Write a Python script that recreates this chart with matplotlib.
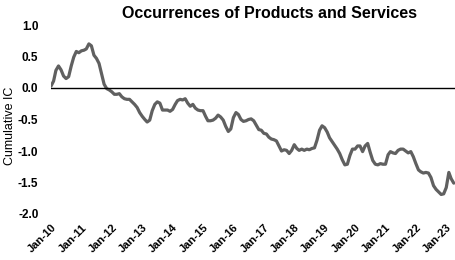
import matplotlib
matplotlib.use("Agg")
import matplotlib.pyplot as plt
import pandas as pd

plt.rcParams['font.family'] = ['Liberation Sans', 'DejaVu Sans']

# monthly cumulative IC from Jan-2010
cum_ic = [
    0.03, 0.11, 0.28, 0.35, 0.29, 0.19, 0.15, 0.18, 0.35, 0.49, 0.58, 0.56,
    0.59, 0.60, 0.62, 0.70, 0.67, 0.52, 0.47, 0.39, 0.22, 0.06, -0.01, -0.03,
    -0.06, -0.10, -0.10, -0.09, -0.14, -0.17, -0.18, -0.18, -0.22, -0.26, -0.31, -0.39,
    -0.45, -0.50, -0.54, -0.51, -0.36, -0.26, -0.22, -0.24, -0.35, -0.35, -0.35, -0.37,
    -0.34, -0.26, -0.20, -0.18, -0.19, -0.17, -0.24, -0.29, -0.26, -0.32, -0.35, -0.36,
    -0.36, -0.45, -0.52, -0.52, -0.51, -0.48, -0.43, -0.46, -0.51, -0.61, -0.69, -0.65,
    -0.47, -0.39, -0.42, -0.50, -0.53, -0.52, -0.50, -0.49, -0.52, -0.59, -0.66, -0.67,
    -0.72, -0.73, -0.78, -0.81, -0.82, -0.84, -0.92, -1.00, -0.98, -0.99, -1.04, -0.99,
    -0.90, -0.96, -0.99, -0.97, -0.99, -0.97, -0.98, -0.96, -0.95, -0.83, -0.67, -0.60,
    -0.63, -0.70, -0.79, -0.85, -0.91, -0.97, -1.04, -1.14, -1.22, -1.21, -1.07, -0.97,
    -0.97, -0.92, -0.92, -1.01, -0.92, -0.88, -1.02, -1.15, -1.21, -1.22, -1.20, -1.21,
    -1.21, -1.06, -1.01, -1.03, -1.04, -0.99, -0.97, -0.97, -1.00, -1.03, -1.01, -1.09,
    -1.20, -1.30, -1.33, -1.35, -1.34, -1.35, -1.42, -1.55, -1.61, -1.65, -1.69, -1.68,
    -1.58, -1.34, -1.44, -1.51,
]
dates = pd.date_range('2010-01-01', periods=len(cum_ic), freq='MS')
tick_dates = pd.date_range('2010-01-01', '2023-01-01', freq='YS')
y_ticks = [1.0, 0.5, 0.0, -0.5, -1.0, -1.5, -2.0]

fig = plt.figure(figsize=(4.55, 2.6), dpi=100)
ax = fig.add_axes([51 / 455, 1 - 214 / 260, 404 / 455, 189 / 260])

ax.plot(dates, cum_ic, color='#606060', linewidth=2.3, solid_capstyle='round')
ax.axhline(0, color='black', linewidth=1)

ax.set_xlim(dates[0], dates[-1] + pd.Timedelta(days=15))
ax.set_ylim(-2.0, 1.0)
ax.set_yticks(y_ticks)
ax.set_yticklabels([f'{v:.1f}' for v in y_ticks], fontsize=8.5, fontweight='bold')
ax.set_xticks(tick_dates)
ax.set_xticklabels([d.strftime('%b-%y') for d in tick_dates], fontsize=8,
                   fontweight='bold', rotation=45, ha='right', rotation_mode='anchor')
ax.tick_params(axis='both', length=0)
ax.tick_params(axis='y', pad=9)
ax.tick_params(axis='x', pad=6)
for s in ax.spines.values():
    s.set_visible(False)

fig.text(269 / 455, 1 - 13 / 260, 'Occurrences of Products and Services',
         ha='center', va='center', fontsize=11.5, fontweight='bold')
fig.text(10 / 455, 1 - 126 / 260, 'Cumulative IC', rotation=90,
         ha='center', va='center', fontsize=9)

fig.savefig('out.png', dpi=100)
